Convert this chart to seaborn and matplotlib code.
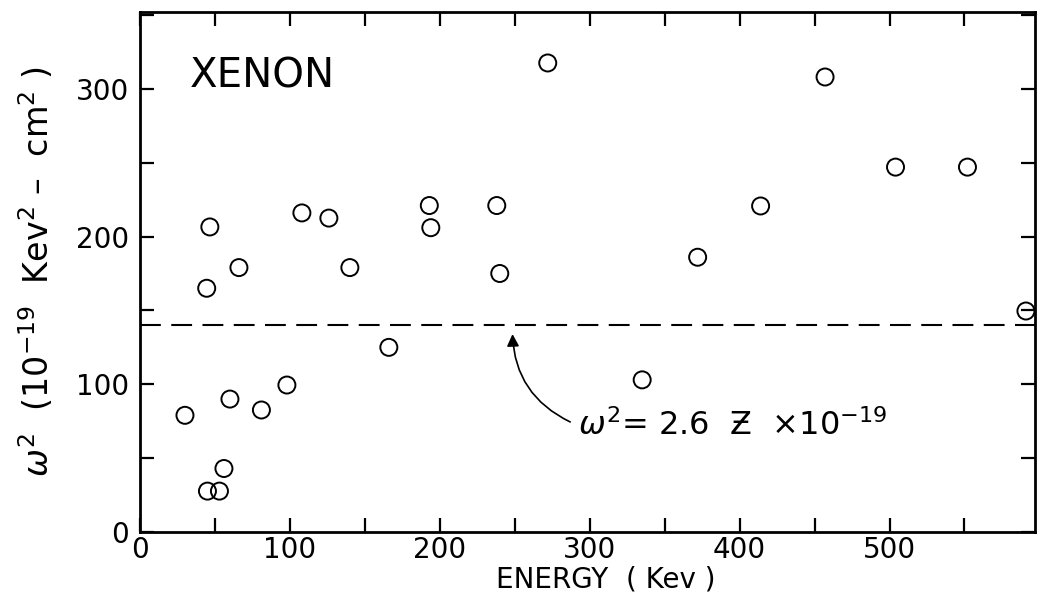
import matplotlib
matplotlib.use("Agg")
import matplotlib.pyplot as plt
from matplotlib.ticker import MultipleLocator
import seaborn as sns
import pandas as pd

# ---- data ----
energy_kev = [30, 45, 53, 56, 60, 81, 98, 166, 44.5, 46.6, 66, 108, 126, 140,
              193, 194, 238, 240, 272, 335, 372, 414, 457, 504, 552, 591]
omega_sq = [79, 27.7, 27.7, 43, 90, 82.6, 99.5, 125, 165, 206.5, 179, 216, 212.5, 179,
            221, 206, 221, 175, 317.5, 103, 186, 220.7, 308, 247, 247, 149.6]
theory_level = 140.4          # 2.6 Z x 1e-19 with Z = 54
x_ticks = [0, 100, 200, 300, 400, 500]
y_ticks = [0, 100, 200, 300]

df = pd.DataFrame({"energy": energy_kev, "omega2": omega_sq})

sns.set_theme(style="ticks")
plt.rcParams["font.family"] = ["DejaVu Sans"]
plt.rcParams["mathtext.fontset"] = "dejavusans"
for key in ("text.color", "axes.labelcolor", "xtick.color", "ytick.color",
            "axes.edgecolor"):
    plt.rcParams[key] = "black"

fig = plt.figure(figsize=(10.37, 6.03), dpi=100)
ax = fig.add_axes([0.135, 0.1177, 0.863, 0.8624])

sns.scatterplot(data=df, x="energy", y="omega2", ax=ax, marker="o", s=150,
                facecolor="none", edgecolor="black", linewidth=1.4, zorder=3)

ax.axhline(theory_level, color="black", lw=1.5, dashes=(10, 5), zorder=2)

ax.set_xlim(0, 597)
ax.set_ylim(0, 352)
ax.set_xticks(x_ticks)
ax.set_yticks(y_ticks)
ax.xaxis.set_minor_locator(MultipleLocator(50))
ax.yaxis.set_minor_locator(MultipleLocator(50))
for which in ("major", "minor"):
    ax.tick_params(axis="both", which=which, direction="in", length=10, width=1.6,
                   top=True, right=True, color="black")
ax.tick_params(axis="x", which="major", labelsize=20, pad=3)
ax.tick_params(axis="y", which="major", labelsize=20, pad=8)

for sp in ax.spines.values():
    sp.set_linewidth(2)
    sp.set_color("black")

ax.set_xlabel("ENERGY  ( Kev )", fontsize=20)
ax.xaxis.set_label_coords(0.52, -0.064)
ax.set_ylabel(r"$\omega^2$  (10$^{-19}$  Kev$^2$ –  cm$^2$ )", fontsize=24)
ax.yaxis.set_label_coords(-0.094, 0.5)

ax.text(33.3, 301, "XENON", fontsize=29, ha="left", va="baseline")

ax.text(292, 65.7, r"$\omega^2$= 2.6  Ƶ  ×10$^{-19}$", fontsize=23,
        ha="left", va="baseline")
ax.annotate("", xy=(248.5, 134), xytext=(287, 74.5),
            arrowprops=dict(arrowstyle="-|>", color="black", lw=1.2,
                            connectionstyle="arc3,rad=-0.3",
                            mutation_scale=18, shrinkA=0, shrinkB=0))

fig.savefig("out.png", dpi=100, facecolor="white")
